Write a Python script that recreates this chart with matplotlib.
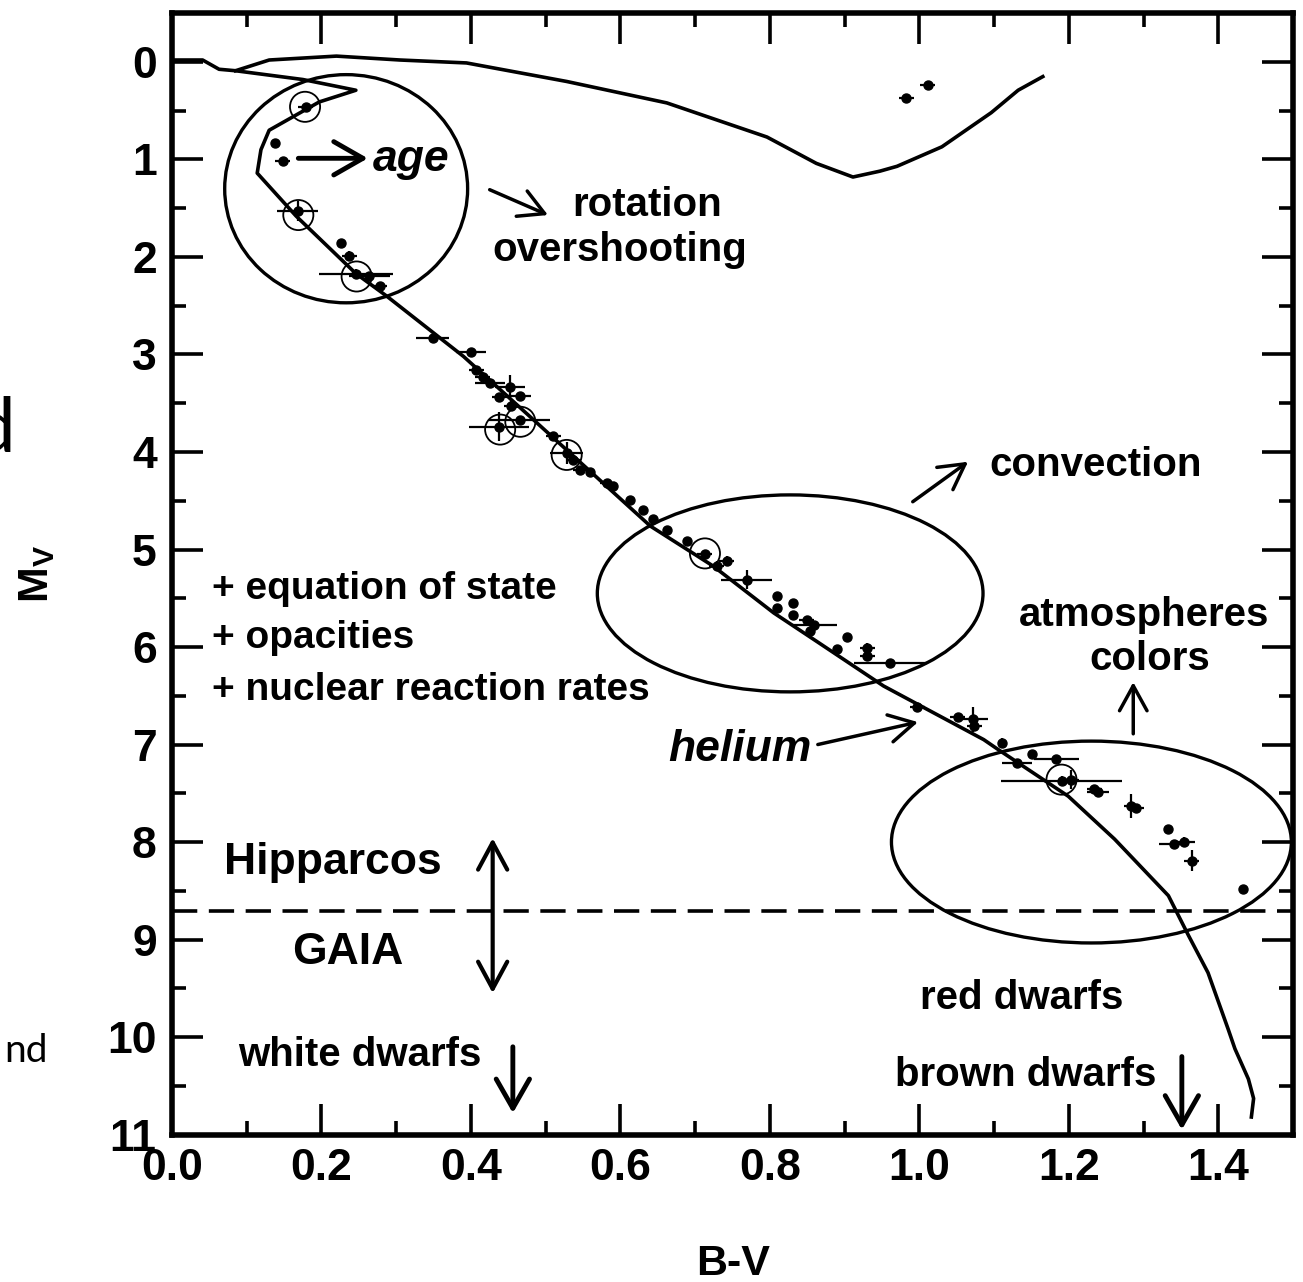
import matplotlib
matplotlib.use("Agg")
import matplotlib.pyplot as plt
from matplotlib.patches import Ellipse
from matplotlib.ticker import MultipleLocator, FormatStrFormatter

plt.rcParams['font.family'] = ['Liberation Sans', 'DejaVu Sans']
plt.rcParams['font.weight'] = 'bold'
plt.rcParams['axes.labelweight'] = 'bold'
plt.rcParams['mathtext.fontset'] = 'custom'
plt.rcParams['mathtext.rm'] = 'Liberation Sans:bold'
plt.rcParams['mathtext.bf'] = 'Liberation Sans:bold'

# isochrone: top-left hook, turnoff and main sequence down to the bottom
iso_bv = [0.005, 0.041, 0.063, 0.085, 0.175, 0.246, 0.197, 0.13, 0.119, 0.114, 0.166,
          0.246, 0.287, 0.39, 0.488, 0.64, 0.724, 0.805, 0.864, 0.952, 1.086, 1.105,
          1.199, 1.261, 1.333, 1.36, 1.386, 1.413, 1.422, 1.44, 1.447, 1.444]
iso_mv = [-0.02, -0.02, 0.075, 0.09, 0.18, 0.29, 0.41, 0.70, 0.90, 1.14, 1.58,
          2.17, 2.40, 3.02, 3.70, 4.76, 5.17, 5.65, 5.95, 6.40, 6.95, 7.05,
          7.53, 7.97, 8.55, 8.96, 9.34, 9.92, 10.12, 10.43, 10.63, 10.82]

# giant branch
gb_bv = [0.085, 0.13, 0.22, 0.305, 0.394, 0.528, 0.662, 0.796, 0.862, 0.911, 0.947,
         0.97, 1.03, 1.096, 1.132, 1.165]
gb_mv = [0.09, -0.02, -0.06, -0.02, 0.01, 0.20, 0.42, 0.77, 1.04, 1.18, 1.12,
         1.07, 0.87, 0.52, 0.29, 0.15]

# stars with error bars
star_bv = [0.179, 0.138, 0.148, 0.168, 0.226, 0.237, 0.246, 0.264, 0.278, 0.349,
           0.40, 0.407, 0.416, 0.425, 0.452, 0.438, 0.465, 0.454, 0.438, 0.465,
           0.51, 0.528, 0.537, 0.546, 0.559, 0.582, 0.59, 0.613, 0.63, 0.644,
           0.662, 0.689, 0.713, 0.729, 0.742, 0.769, 0.81, 0.81, 0.831, 0.831,
           0.849, 0.859, 0.854, 0.903, 0.89, 0.93, 0.93, 0.961, 0.997, 1.051,
           1.071, 1.073, 1.111, 1.131, 1.151, 1.183, 1.19, 1.203, 1.234, 1.239,
           1.283, 1.29, 1.333, 1.341, 1.354, 1.364, 1.433, 0.982, 1.011]
star_mv = [0.46, 0.83, 1.02, 1.53, 1.86, 1.99, 2.17, 2.20, 2.30, 2.83,
           2.97, 3.16, 3.23, 3.29, 3.33, 3.44, 3.43, 3.53, 3.74, 3.67,
           3.84, 4.01, 4.08, 4.18, 4.21, 4.32, 4.35, 4.49, 4.59, 4.69,
           4.80, 4.91, 5.05, 5.17, 5.12, 5.31, 5.48, 5.60, 5.55, 5.67,
           5.72, 5.77, 5.84, 5.90, 6.02, 6.01, 6.09, 6.16, 6.62, 6.72,
           6.74, 6.81, 6.98, 7.19, 7.10, 7.15, 7.37, 7.36, 7.46, 7.49,
           7.63, 7.65, 7.87, 8.02, 8.00, 8.19, 8.48, 0.37, 0.24]
star_bv_err = [0.01, 0.0, 0.01, 0.027, 0.005, 0.01, 0.05, 0.027, 0.01, 0.022,
               0.02, 0.01, 0.01, 0.02, 0.02, 0.01, 0.015, 0.01, 0.04, 0.041,
               0.01, 0.022, 0.01, 0.01, 0.005, 0.01, 0.005, 0.005, 0.005, 0.005,
               0.005, 0.005, 0.01, 0.01, 0.01, 0.034, 0.0, 0.0, 0.0, 0.0,
               0.01, 0.03, 0.005, 0.0, 0.005, 0.01, 0.01, 0.049, 0.01, 0.01,
               0.02, 0.01, 0.005, 0.02, 0.0, 0.03, 0.081, 0.01, 0.01, 0.015,
               0.01, 0.01, 0.0, 0.02, 0.015, 0.01, 0.0, 0.01, 0.01]
star_mv_err = [0.03, 0.0, 0.0, 0.10, 0.0, 0.05, 0.05, 0.05, 0.03, 0.0,
               0.0, 0.03, 0.03, 0.03, 0.12, 0.05, 0.03, 0.05, 0.15, 0.03,
               0.03, 0.11, 0.03, 0.03, 0.03, 0.03, 0.03, 0.03, 0.03, 0.03,
               0.03, 0.03, 0.05, 0.05, 0.05, 0.10, 0.0, 0.0, 0.04, 0.04,
               0.04, 0.03, 0.03, 0.0, 0.03, 0.05, 0.05, 0.03, 0.03, 0.03,
               0.13, 0.03, 0.05, 0.03, 0.0, 0.03, 0.05, 0.10, 0.03, 0.03,
               0.12, 0.03, 0.0, 0.03, 0.05, 0.11, 0.0, 0.0, 0.0]

# stars marked with an open circle
circ_bv = [0.178, 0.169, 0.247, 0.439, 0.466, 0.528, 0.713, 1.19]
circ_mv = [0.46, 1.57, 2.20, 3.77, 3.69, 4.03, 5.04, 7.36]

# large ellipses: centre bv, centre mv, width, height
ell_bv = [0.233, 0.827, 1.230]
ell_mv = [1.30, 5.45, 8.00]
ell_w = [0.325, 0.516, 0.535]
ell_h = [2.34, 2.02, 2.07]

limit_mv = 8.71

fig = plt.figure(figsize=(13.03, 12.82), dpi=100)
ax = fig.add_axes([0.132, 0.115, 0.8605, 0.8747])

ax.plot(iso_bv, iso_mv, color='black', lw=2.6, solid_joinstyle='round')
ax.plot(gb_bv, gb_mv, color='black', lw=2.6, solid_joinstyle='round')
ax.errorbar(star_bv, star_mv, xerr=star_bv_err, yerr=star_mv_err, fmt='o',
            ms=6.5, color='black', elinewidth=1.6, capsize=0)
ax.scatter(circ_bv, circ_mv, s=470, facecolors='none', edgecolors='black', linewidths=1.3)

for cx, cy, w, h in zip(ell_bv, ell_mv, ell_w, ell_h):
    ax.add_patch(Ellipse((cx, cy), w, h, fill=False, edgecolor='black', lw=2.4))

ax.axhline(limit_mv, color='black', lw=2.6, dashes=(7, 3.2))

arrow = dict(arrowstyle='->,head_length=0.6,head_width=0.33', color='black',
             lw=2.5, mutation_scale=30, shrinkA=0, shrinkB=0)
arrow_thick = dict(arrow, lw=3.5, arrowstyle='->,head_length=0.7,head_width=0.4')

def arr(tail, head, props=arrow):
    ax.annotate('', xy=head, xytext=tail, arrowprops=props)

arr((0.169, 0.988), (0.262, 0.988), arrow_thick)
arr((0.425, 1.31), (0.503, 1.57))
arr((0.991, 4.51), (1.065, 4.10))
arr((1.286, 6.89), (1.286, 6.36))
arr((0.864, 7.0), (0.998, 6.77))
arr((0.456, 10.10), (0.456, 10.78), arrow_thick)
arr((1.351, 10.20), (1.351, 10.95), arrow_thick)
ax.annotate('', xy=(0.429, 9.55), xytext=(0.429, 7.96),
            arrowprops=dict(arrow, arrowstyle='<->,head_length=0.65,head_width=0.35', lw=3))

ax.text(0.269, 1.0, 'age', fontsize=32, style='italic', va='center')
ax.text(0.536, 1.467, 'rotation', fontsize=29, va='center')
ax.text(0.429, 1.93, 'overshooting', fontsize=29, va='center')
ax.text(1.094, 4.13, 'convection', fontsize=29, va='center')
ax.text(1.300, 5.67, 'atmospheres', fontsize=29, va='center', ha='center')
ax.text(1.308, 6.12, 'colors', fontsize=29, va='center', ha='center')
ax.text(0.0535, 5.41, '+ equation of state', fontsize=28, va='center')
ax.text(0.0535, 5.91, '+ opacities', fontsize=28, va='center')
ax.text(0.0535, 6.44, '+ nuclear reaction rates', fontsize=28, va='center')
ax.text(0.856, 7.05, 'helium', fontsize=32, style='italic', va='center', ha='right')
ax.text(0.0696, 8.21, 'Hipparcos', fontsize=32, va='center')
ax.text(0.2355, 9.13, 'GAIA', fontsize=32, va='center', ha='center')
ax.text(0.088, 10.18, 'white dwarfs', fontsize=29, va='center')
ax.text(1.0007, 9.60, 'red dwarfs', fontsize=29, va='center')
ax.text(0.967, 10.39, 'brown dwarfs', fontsize=29, va='center')

ax.set_xlim(0, 1.5)
ax.set_ylim(11, -0.5)
ax.xaxis.set_major_locator(MultipleLocator(0.2))
ax.xaxis.set_minor_locator(MultipleLocator(0.1))
ax.xaxis.set_major_formatter(FormatStrFormatter('%.1f'))
ax.yaxis.set_major_locator(MultipleLocator(1))
ax.yaxis.set_minor_locator(MultipleLocator(0.5))
ax.tick_params(which='both', direction='in', top=True, right=True, width=2.6, labelsize=32)
ax.tick_params(which='major', length=22)
ax.tick_params(which='minor', length=10)
ax.tick_params(axis='x', pad=10)
ax.tick_params(axis='y', pad=11)
for s in ax.spines.values():
    s.set_linewidth(4)

ax.set_xlabel('B-V', fontsize=31, fontweight='bold', labelpad=39)
ax.set_ylabel(r'$\mathbf{M_V}$', fontsize=31, labelpad=36)

# pieces of slide text cut off at the left edge
fig.text(15 / 1303, 1 - 452 / 1282, 'd', fontsize=55, fontweight='normal',
         family=['Lato', 'DejaVu Sans'], ha='right', va='baseline')
fig.text(48 / 1303, 1 - 1062 / 1282, 'nd', fontsize=28, fontweight='normal',
         family=['Lato', 'DejaVu Sans'], ha='right', va='baseline')

fig.savefig('out.png', dpi=100)
